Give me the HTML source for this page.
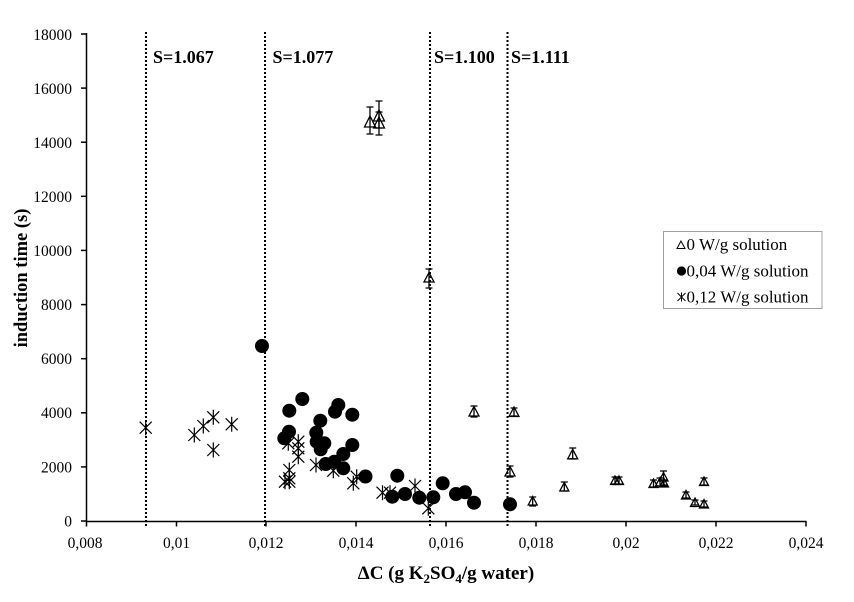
<!DOCTYPE html>
<html>
<head>
<meta charset="utf-8">
<style>
html,body{margin:0;padding:0;background:#fff;}
svg{display:block;}
text{font-family:"Liberation Serif","Times New Roman",serif;fill:#000;}
</style>
</head>
<body>
<svg width="854" height="602" viewBox="0 0 854 602" xmlns="http://www.w3.org/2000/svg">
<rect width="854" height="602" fill="#fff"/>

<!-- dotted S lines -->
<g stroke="#000" stroke-width="2" stroke-dasharray="2 2" fill="none">
<line x1="146" y1="32" x2="146" y2="527"/>
<line x1="265" y1="32" x2="265" y2="527"/>
<line x1="430" y1="32" x2="430" y2="527"/>
<line x1="507.5" y1="32" x2="507.5" y2="527"/>
</g>

<!-- S labels -->
<g font-weight="bold" font-size="18">
<text x="153" y="63">S=1.067</text>
<text x="272.5" y="63">S=1.077</text>
<text x="434" y="63">S=1.100</text>
<text x="511" y="63">S=1.111</text>
</g>

<!-- axes -->
<g stroke="#000" stroke-width="1.5" fill="none">
<line x1="86.5" y1="33" x2="86.5" y2="521.5"/>
<line x1="86" y1="521.5" x2="806.5" y2="521.5"/>
<!-- y ticks -->
<line x1="81" y1="34" x2="86.5" y2="34"/>
<line x1="81" y1="88.1" x2="86.5" y2="88.1"/>
<line x1="81" y1="142.2" x2="86.5" y2="142.2"/>
<line x1="81" y1="196.3" x2="86.5" y2="196.3"/>
<line x1="81" y1="250.4" x2="86.5" y2="250.4"/>
<line x1="81" y1="304.6" x2="86.5" y2="304.6"/>
<line x1="81" y1="358.7" x2="86.5" y2="358.7"/>
<line x1="81" y1="412.8" x2="86.5" y2="412.8"/>
<line x1="81" y1="466.9" x2="86.5" y2="466.9"/>
<line x1="81" y1="521" x2="86.5" y2="521"/>
<!-- x ticks -->
<line x1="86.5" y1="521" x2="86.5" y2="526.5"/>
<line x1="176.5" y1="521" x2="176.5" y2="526.5"/>
<line x1="266" y1="521" x2="266" y2="526.5"/>
<line x1="356" y1="521" x2="356" y2="526.5"/>
<line x1="446" y1="521" x2="446" y2="526.5"/>
<line x1="536" y1="521" x2="536" y2="526.5"/>
<line x1="626" y1="521" x2="626" y2="526.5"/>
<line x1="716" y1="521" x2="716" y2="526.5"/>
<line x1="806" y1="521" x2="806" y2="526.5"/>
</g>

<!-- y tick labels -->
<g font-size="15.5" text-anchor="end">
<text x="72" y="40">18000</text>
<text x="72" y="94">16000</text>
<text x="72" y="148">14000</text>
<text x="72" y="202">12000</text>
<text x="72" y="256">10000</text>
<text x="72" y="310">8000</text>
<text x="72" y="364">6000</text>
<text x="72" y="418">4000</text>
<text x="72" y="472.5">2000</text>
<text x="72" y="526.5">0</text>
</g>

<!-- x tick labels -->
<g font-size="15.5" text-anchor="middle">
<text x="85" y="548">0,008</text>
<text x="176.5" y="548">0,01</text>
<text x="266" y="548">0,012</text>
<text x="356" y="548">0,014</text>
<text x="446" y="548">0,016</text>
<text x="536" y="548">0,018</text>
<text x="626" y="548">0,02</text>
<text x="716" y="548">0,022</text>
<text x="806" y="548">0,024</text>
</g>

<!-- axis titles -->
<text x="446" y="579" font-size="19" font-weight="bold" text-anchor="middle">ΔC (g K<tspan font-size="13" dy="4">2</tspan><tspan dy="-4">SO</tspan><tspan font-size="13" dy="4">4</tspan><tspan dy="-4">/g water)</tspan></text>
<text transform="translate(27,278) rotate(-90)" font-size="18.5" font-weight="bold" text-anchor="middle">induction time (s)</text>

<!-- triangles with error bars -->
<g stroke="#000" stroke-width="1.3" fill="none">
<path d="M370 107V134M366.5 107H373.5M366.5 134H373.5"/>
<path d="M379 101V135M375.5 101H382.5M375.5 135H382.5"/>
<path d="M379 112V128M375.5 112H382.5M375.5 128H382.5"/>
<path d="M429 269V288M425.5 269H432.5M425.5 288H432.5"/>
<path d="M474 406V417M470.5 406H477.5M470.5 417H477.5"/>
<path d="M514 408V416M510.5 408H517.5M510.5 416H517.5"/>
<path d="M510 466V477M506.5 466H513.5M506.5 477H513.5"/>
<path d="M572.7 448V459M569.2 448H576.2M569.2 459H576.2"/>
<path d="M564.3 482V491M560.8 482H567.8M560.8 491H567.8"/>
<path d="M532.7 497V506M529.2 497H536.2M529.2 506H536.2"/>
<path d="M615 477V484M611.5 477H618.5M611.5 484H618.5"/>
<path d="M619 477V484M615.5 477H622.5M615.5 484H622.5"/>
<path d="M653.5 480V487M650 480H657M650 487H657"/>
<path d="M660 478V486M656.5 478H663.5M656.5 486H663.5"/>
<path d="M663.5 471V485M660 471H667M660 485H667"/>
<path d="M664 480V486M660.5 480H667.5M660.5 486H667.5"/>
<path d="M704 478V485M700.5 478H707.5M700.5 485H707.5"/>
<path d="M686 492V498M682.5 492H689.5M682.5 498H689.5"/>
<path d="M695 500V505M691.5 500H698.5M691.5 505H698.5"/>
<path d="M704 501V507M700.5 501H707.5M700.5 507H707.5"/>
<polygon points="370,116 364.5,127 375.5,127"/>
<polygon points="379,110 373.5,121 384.5,121"/>
<polygon points="379,117 373.5,128 384.5,128"/>
<polygon points="429,272.5 424,282 434,282"/>
<polygon points="474,406.5 469,416 479,416"/>
<polygon points="514,407 509,416.5 519,416.5"/>
<polygon points="510,466.5 505,476 515,476"/>
<polygon points="572.7,449.3 567.7,458.8 577.7,458.8"/>
<polygon points="564.3,482.5 559.8,491 568.8,491"/>
<polygon points="532.7,496.5 528.2,505 537.2,505"/>
<polygon points="615,476 610.5,484.5 619.5,484.5"/>
<polygon points="619,476 614.5,484.5 623.5,484.5"/>
<polygon points="653.5,479 649,487.5 658,487.5"/>
<polygon points="660,477.5 655.5,486 664.5,486"/>
<polygon points="663.5,472.5 659,481 668,481"/>
<polygon points="664,478.5 659.5,487 668.5,487"/>
<polygon points="704,477 699.5,485.5 708.5,485.5"/>
<polygon points="686,490.5 681.5,499 690.5,499"/>
<polygon points="695,498 690.5,506.5 699.5,506.5"/>
<polygon points="704,499.5 699.5,508 708.5,508"/>
</g>

<!-- filled circles -->
<g fill="#000">
<circle cx="262" cy="346" r="7"/>
<circle cx="302.3" cy="399" r="7"/>
<circle cx="289.3" cy="410.7" r="7"/>
<circle cx="338.3" cy="405" r="7"/>
<circle cx="335" cy="411.7" r="7"/>
<circle cx="352.3" cy="414.7" r="7"/>
<circle cx="320.3" cy="420.7" r="7"/>
<circle cx="289" cy="431.7" r="7"/>
<circle cx="284.3" cy="438.3" r="7"/>
<circle cx="316.3" cy="432.7" r="7"/>
<circle cx="316.7" cy="441.7" r="7"/>
<circle cx="324.3" cy="443.3" r="7"/>
<circle cx="320.7" cy="449.3" r="7"/>
<circle cx="352.3" cy="445" r="7"/>
<circle cx="343.3" cy="454" r="7"/>
<circle cx="325.7" cy="464" r="7"/>
<circle cx="334.3" cy="461.7" r="7"/>
<circle cx="343.3" cy="468.3" r="7"/>
<circle cx="365.5" cy="476.5" r="7"/>
<circle cx="397.3" cy="475.7" r="7"/>
<circle cx="392.3" cy="496.7" r="7"/>
<circle cx="405" cy="494" r="7"/>
<circle cx="419.3" cy="497.7" r="7"/>
<circle cx="433.3" cy="497.3" r="7"/>
<circle cx="442.7" cy="483.3" r="7"/>
<circle cx="456" cy="494" r="7"/>
<circle cx="465" cy="492.3" r="7"/>
<circle cx="474" cy="502.7" r="7"/>
<circle cx="510" cy="504.3" r="7"/>
</g>

<!-- asterisks -->
<defs>
<path id="ast" d="M-6,-6L6,6M-6,6L6,-6M0,-7.5V7.5" stroke="#000" stroke-width="1.2" fill="none"/>
</defs>
<g>
<use href="#ast" x="145.7" y="427.7"/>
<use href="#ast" x="194.3" y="435"/>
<use href="#ast" x="203.3" y="426"/>
<use href="#ast" x="213.3" y="417.3"/>
<use href="#ast" x="213.3" y="450"/>
<use href="#ast" x="231.7" y="424.3"/>
<use href="#ast" x="288.3" y="443.3"/>
<use href="#ast" x="298.3" y="441.7"/>
<use href="#ast" x="298.3" y="448.3"/>
<use href="#ast" x="298.3" y="456.7"/>
<use href="#ast" x="289.3" y="470"/>
<use href="#ast" x="289.3" y="478.3"/>
<use href="#ast" x="285" y="481.7"/>
<use href="#ast" x="289.3" y="481.7"/>
<use href="#ast" x="316" y="465"/>
<use href="#ast" x="333.3" y="470.7"/>
<use href="#ast" x="353.3" y="483.3"/>
<use href="#ast" x="356.7" y="476.7"/>
<use href="#ast" x="382.5" y="492.7"/>
<use href="#ast" x="390" y="492.7"/>
<use href="#ast" x="415" y="486"/>
<use href="#ast" x="428.3" y="508.3"/>
</g>

<!-- legend -->
<rect x="663.5" y="231.5" width="158.5" height="77" fill="#fff" stroke="#a0a0a0" stroke-width="1"/>
<polygon points="681,241 677,248.5 685,248.5" fill="none" stroke="#000" stroke-width="1"/>
<circle cx="681.5" cy="271" r="4.6" fill="#000"/>
<path d="M677.5,293L685.5,301M677.5,301L685.5,293M681.5,292.5V301.5" stroke="#000" stroke-width="1" fill="none"/>
<g font-size="17">
<text x="686.5" y="250">0 W/g solution</text>
<text x="686.5" y="276.5">0,04 W/g solution</text>
<text x="686.5" y="302.5">0,12 W/g solution</text>
</g>
</svg>
</body>
</html>
